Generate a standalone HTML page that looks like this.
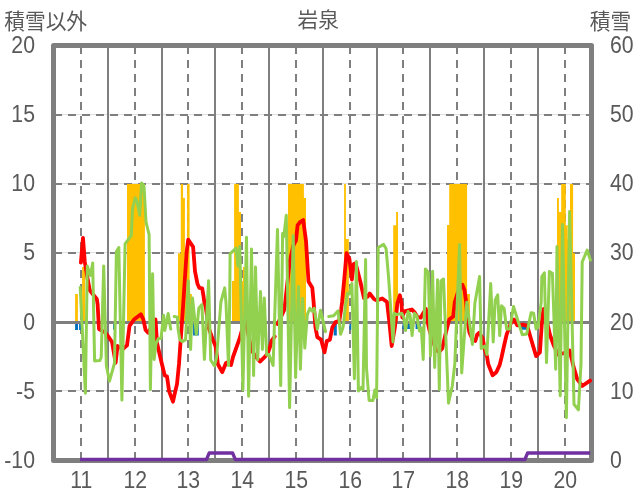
<!DOCTYPE html>
<html><head><meta charset="utf-8"><title>chart</title><style>html,body{margin:0;padding:0;background:#fff}body{width:636px;height:501px;overflow:hidden}</style></head><body>
<svg width="636" height="501" viewBox="0 0 636 501" style="display:block">
<rect width="636" height="501" fill="#fff"/>
<line x1="54" x2="591" y1="114.6" y2="114.6" stroke="#d4d4d4" stroke-width="0.8"/>
<line x1="54" x2="591" y1="183.6" y2="183.6" stroke="#d4d4d4" stroke-width="0.8"/>
<line x1="54" x2="591" y1="252.6" y2="252.6" stroke="#d4d4d4" stroke-width="0.8"/>
<line x1="54" x2="591" y1="390.6" y2="390.6" stroke="#d4d4d4" stroke-width="0.8"/>
<line x1="54" x2="591" y1="115" y2="115" stroke="#7f7f7f" stroke-width="2" stroke-dasharray="8 6"/>
<line x1="54" x2="591" y1="184" y2="184" stroke="#7f7f7f" stroke-width="2" stroke-dasharray="8 6"/>
<line x1="54" x2="591" y1="253" y2="253" stroke="#7f7f7f" stroke-width="2" stroke-dasharray="8 6"/>
<line x1="54" x2="591" y1="391" y2="391" stroke="#7f7f7f" stroke-width="2" stroke-dasharray="8 6"/>
<line x1="81" x2="81" y1="46" y2="460" stroke="#7f7f7f" stroke-width="2" stroke-dasharray="8 6"/>
<line x1="108" x2="108" y1="46" y2="460" stroke="#7f7f7f" stroke-width="2"/>
<line x1="135" x2="135" y1="46" y2="460" stroke="#7f7f7f" stroke-width="2" stroke-dasharray="8 6"/>
<line x1="162" x2="162" y1="46" y2="460" stroke="#7f7f7f" stroke-width="2"/>
<line x1="188" x2="188" y1="46" y2="460" stroke="#7f7f7f" stroke-width="2" stroke-dasharray="8 6"/>
<line x1="215" x2="215" y1="46" y2="460" stroke="#7f7f7f" stroke-width="2"/>
<line x1="242" x2="242" y1="46" y2="460" stroke="#7f7f7f" stroke-width="2" stroke-dasharray="8 6"/>
<line x1="269" x2="269" y1="46" y2="460" stroke="#7f7f7f" stroke-width="2"/>
<line x1="296" x2="296" y1="46" y2="460" stroke="#7f7f7f" stroke-width="2" stroke-dasharray="8 6"/>
<line x1="323" x2="323" y1="46" y2="460" stroke="#7f7f7f" stroke-width="2"/>
<line x1="350" x2="350" y1="46" y2="460" stroke="#7f7f7f" stroke-width="2" stroke-dasharray="8 6"/>
<line x1="377" x2="377" y1="46" y2="460" stroke="#7f7f7f" stroke-width="2"/>
<line x1="403" x2="403" y1="46" y2="460" stroke="#7f7f7f" stroke-width="2" stroke-dasharray="8 6"/>
<line x1="430" x2="430" y1="46" y2="460" stroke="#7f7f7f" stroke-width="2"/>
<line x1="457" x2="457" y1="46" y2="460" stroke="#7f7f7f" stroke-width="2" stroke-dasharray="8 6"/>
<line x1="484" x2="484" y1="46" y2="460" stroke="#7f7f7f" stroke-width="2"/>
<line x1="511" x2="511" y1="46" y2="460" stroke="#7f7f7f" stroke-width="2" stroke-dasharray="8 6"/>
<line x1="538" x2="538" y1="46" y2="460" stroke="#7f7f7f" stroke-width="2"/>
<line x1="565" x2="565" y1="46" y2="460" stroke="#7f7f7f" stroke-width="2" stroke-dasharray="8 6"/>
<path d="M75.10,322.00L75.10,294.00L77.90,294.00L77.90,322.00ZM82.10,322.00L82.10,267.00L85.10,267.00L85.10,322.00ZM127.00,322.00L127.00,184.00L144.90,184.00L144.90,322.00ZM178.00,322.00L178.00,253.20L180.80,253.20L180.80,184.00L183.05,184.00L183.05,198.10L184.90,198.10L184.90,262.00L187.10,262.00L187.10,184.00L189.60,184.00L189.60,294.10L191.90,294.10L191.90,322.00ZM232.00,322.00L232.00,280.90L234.10,280.90L234.10,184.00L238.90,184.00L238.90,212.00L241.00,212.00L241.00,281.00L242.90,281.00L242.90,267.00L244.80,267.00L244.80,322.00ZM288.00,322.00L288.00,184.00L303.90,184.00L303.90,198.10L306.00,198.10L306.00,322.00ZM344.10,322.00L344.10,184.00L345.90,184.00L345.90,239.00L348.80,239.00L348.80,322.00ZM393.20,322.00L393.20,225.20L396.10,225.20L396.10,212.00L398.00,212.00L398.00,322.00ZM447.00,322.00L447.00,224.90L449.20,224.90L449.20,184.00L467.10,184.00L467.10,294.10L469.90,294.10L469.90,322.00ZM557.00,322.00L557.00,198.10L558.90,198.10L558.90,212.00L561.20,212.00L561.20,184.00L565.80,184.00L565.80,225.20L567.70,225.20L567.70,239.00L570.00,239.00L570.00,184.00L573.10,184.00L573.10,253.20L575.00,253.20L575.00,322.00Z" fill="#ffc000"/>
<path d="M75.10,322.00L75.10,329.90L78.00,329.90L78.00,322.00ZM79.10,322.00L79.10,329.90L81.10,329.90L81.10,322.00ZM113.10,322.00L113.10,329.70L114.10,329.70L114.10,322.00ZM193.10,322.00L193.10,335.50L198.80,335.50L198.80,322.00ZM333.70,322.00L333.70,335.50L336.80,335.50L336.80,322.00ZM349.40,322.00L349.40,329.70L351.30,329.70L351.30,322.00ZM402.40,322.00L402.40,329.00L404.30,329.00L404.30,322.00ZM406.80,322.00L406.80,329.00L413.10,329.00L413.10,322.00ZM415.60,322.00L415.60,329.00L420.70,329.00L420.70,322.00ZM521.00,322.00L521.00,329.70L527.00,329.70L527.00,322.00Z" fill="#0070c0"/>
<line x1="54" x2="591" y1="322.5" y2="322.5" stroke="#7f7f7f" stroke-width="3"/>
<rect x="53.5" y="45.5" width="538.00" height="415.00" fill="none" stroke="#7f7f7f" stroke-width="5" stroke-linejoin="round"/>
<polyline points="80.0,459.5 206.5,459.5 209.2,453.0 232.6,453.0 235.3,459.5 524.9,459.5 527.6,453.0 590.2,453.0" fill="none" stroke="#7030a0" stroke-width="3.3" stroke-linejoin="round" stroke-linecap="butt"/>
<polyline points="80.9,262.6 83.0,237.8 84.8,262.0 87.3,277.0 89.8,290.3 93.5,295.0 96.8,299.0 97.6,304.0 99.0,329.0 105.0,332.4 108.0,336.0 112.0,342.0 115.6,362.8 117.5,346.0 122.6,349.2 127.0,345.4 129.5,325.9 134.0,319.6 140.9,314.3 143.4,319.6 145.6,330.0 148.1,332.8 155.5,319.5 157.0,343.0 161.9,364.0 164.8,375.6 167.0,376.6 169.2,391.7 173.0,401.7 174.9,392.9 177.0,384.1 179.0,364.0 183.3,302.9 186.6,252.6 188.2,239.6 190.5,243.0 193.1,246.9 195.0,271.4 197.5,284.0 199.4,287.8 202.2,288.4 203.4,295.3 204.4,302.9 205.8,307.5 208.7,327.9 212.9,339.8 215.5,346.0 217.1,357.3 217.8,364.0 222.2,372.2 226.0,363.0 228.5,362.0 231.0,365.0 233.0,357.0 239.2,339.7 243.6,324.6 245.5,321.0 248.0,333.0 251.5,350.0 256.0,357.0 260.0,361.6 264.8,356.9 267.6,353.6 270.0,347.0 271.8,340.4 274.7,336.6" fill="none" stroke="#ff0000" stroke-width="3.8" stroke-linejoin="round" stroke-linecap="round"/>
<polyline points="277.5,324.0 281.0,317.0 284.2,310.0 285.5,300.0 289.7,261.4 293.5,245.0 296.0,240.5 297.6,225.2 300.4,221.8 303.2,220.1 304.8,232.0 306.0,241.0 308.5,281.5 312.3,287.8 313.6,302.0 315.4,327.2 317.3,337.2 321.1,339.7 324.5,352.3 326.8,341.0 329.9,339.7 332.4,327.2 335.6,322.1 339.3,320.9 341.2,309.5 342.1,302.0 344.4,277.7 346.5,253.2 349.4,258.9 351.9,279.6 353.8,264.0 355.6,263.2 360.3,281.5 364.0,298.0 367.8,296.6 369.7,293.5 374.1,299.1 376.6,300.4 382.3,298.5 387.0,302.0 389.2,320.9 391.7,346.0 394.9,327.2 397.4,303.0 399.9,295.3 401.5,303.0 402.3,317.5 404.3,311.4 409.3,310.2 411.9,309.5 414.4,312.1 417.5,317.1 420.7,317.7 423.2,313.3 425.9,308.9 428.2,324.6 429.5,330.3 432.0,338.0 436.0,350.0 439.0,352.0 442.2,348.5 446.0,332.2 449.2,319.6 453.2,316.5 454.8,302.0 458.0,292.0 462.4,284.7 464.5,290.0 466.1,302.0 467.4,320.9 469.5,332.8 472.4,339.1 475.3,341.0 477.1,334.7 479.1,332.8 482.5,337.8 485.0,350.4 486.9,356.1 488.2,364.0 492.6,375.3 496.3,372.2 499.7,364.9 501.4,358.0 504.0,346.0 506.6,334.7 511.0,322.8 514.1,319.6 517.3,325.3 522.9,324.6 527.3,325.9 530.5,337.2 536.1,356.1 539.9,352.3 542.4,314.6 543.7,308.9 547.0,322.0 550.0,335.0 554.0,346.0 558.2,354.8 564.0,353.0 569.5,350.4 572.0,359.9 572.8,364.0 577.2,379.1 582.2,386.0 590.1,380.6" fill="none" stroke="#ff0000" stroke-width="3.8" stroke-linejoin="round" stroke-linecap="round"/>
<polyline points="80.2,287.2 85.4,393.2 87.3,265.9 90.5,275.4 92.7,263.1 94.6,361.0 99.9,360.5 101.2,357.3 103.7,265.9 106.4,366.0 109.5,381.2 114.5,363.0 116.4,251.5 118.8,247.6 121.9,400.1 125.1,243.8 131.3,235.3 132.5,209.0 135.2,197.9 137.2,202.2 139.7,215.3 141.6,182.9 144.0,186.2 146.0,222.0 149.1,234.6 150.4,389.4 152.6,273.7 154.1,359.5 156.0,343.5 158.5,338.5 161.0,338.5 163.6,315.3 164.8,330.5 168.2,313.4 170.7,329.0" fill="none" stroke="#92d050" stroke-width="3.0" stroke-linejoin="round" stroke-linecap="round"/>
<polyline points="174.2,316.5 177.4,317.1 178.0,328.4 179.9,339.7 182.4,341.6 185.6,339.7 188.3,280.7 190.6,349.4 192.5,297.9 196.3,334.3 198.8,308.3 201.9,304.5 204.4,359.5 208.6,280.7 210.7,360.0 214.5,366.0 216.5,358.0 220.9,302.0 224.7,287.9 226.0,303.0 228.5,365.6 229.7,302.0 230.1,253.8 236.0,248.2 237.9,266.0 239.8,246.4 242.9,390.0 246.5,237.2 248.6,396.3 251.5,248.9 253.6,375.6 255.5,267.1 257.7,359.8 260.5,291.6 262.4,349.4 264.3,297.9 266.7,355.0 269.0,354.5 273.1,365.5 277.5,229.6 280.7,385.6 282.6,233.4 283.8,236.6 286.3,215.2 289.6,407.6 293.2,235.5 295.6,377.4 298.5,286.6 300.4,369.3 302.6,298.6 304.8,348.1 307.3,314.6 309.8,308.3 312.3,311.4 314.2,308.3 317.3,329.3 320.5,310.2 325.5,331.6" fill="none" stroke="#92d050" stroke-width="3.0" stroke-linejoin="round" stroke-linecap="round"/>
<polyline points="328.7,316.5 333.7,315.8 338.1,310.8 340.6,334.3 343.1,327.2 345.6,304.5 347.5,293.5 349.4,294.0 351.9,283.5 354.4,378.7 356.4,261.5 358.4,391.0 361.5,387.3 363.0,389.6 365.6,259.6 366.5,368.0 369.1,400.5 372.9,400.5 374.8,389.9 376.6,397.6 378.2,247.5 383.6,244.4 386.1,248.8 388.6,277.7 393.0,341.9 394.3,313.3 396.8,314.6 401.8,313.3 403.7,317.1 405.6,330.5 408.1,311.5 410.0,314.6 412.1,335.6 414.4,313.3 416.9,315.8 419.4,330.9 421.3,327.9 423.2,359.5 425.4,268.9 428.3,272.5 430.5,355.9 432.6,271.2 434.7,367.4 437.6,279.7 439.3,389.4 441.0,281.0 443.5,279.0 448.5,403.2 452.3,386.0 454.8,364.0 459.6,244.5 461.7,373.0 466.8,302.3 472.4,344.4 474.9,303.0 479.6,276.5 481.2,348.5 485.0,346.0 486.9,354.4 490.7,283.5 493.2,341.9 495.2,300.0 497.7,294.8 499.7,335.6 501.5,305.8 504.1,308.3 506.6,329.0 509.7,329.0 513.5,306.5 522.3,334.7 526.7,334.1 531.1,312.7 533.6,313.3 536.1,329.0 538.0,327.2 541.2,302.0 541.8,276.5 544.4,272.8 546.5,362.6 549.4,271.4 552.4,273.3 555.7,369.3 557.0,246.4 560.2,395.7 562.5,224.6 566.4,417.7 569.6,211.4 574.0,404.3 578.4,409.9 581.0,364.0 582.2,262.0 587.2,250.1 590.4,260.1" fill="none" stroke="#92d050" stroke-width="3.0" stroke-linejoin="round" stroke-linecap="round"/>
<defs><filter id="nf" x="0" y="0" width="636" height="501" filterUnits="userSpaceOnUse" color-interpolation-filters="sRGB"><feOffset dx="0" dy="0"/></filter></defs><g filter="url(#nf)">
<text transform="translate(35,53.2) scale(0.985,1.065)" text-anchor="end" style="font-family:'Liberation Sans',sans-serif;font-size:21.6px;fill:#595959">20</text>
<text transform="translate(35,122.3) scale(0.985,1.065)" text-anchor="end" style="font-family:'Liberation Sans',sans-serif;font-size:21.6px;fill:#595959">15</text>
<text transform="translate(35,191.3) scale(0.985,1.065)" text-anchor="end" style="font-family:'Liberation Sans',sans-serif;font-size:21.6px;fill:#595959">10</text>
<text transform="translate(35,260.4) scale(0.985,1.065)" text-anchor="end" style="font-family:'Liberation Sans',sans-serif;font-size:21.6px;fill:#595959">5</text>
<text transform="translate(35,329.5) scale(0.985,1.065)" text-anchor="end" style="font-family:'Liberation Sans',sans-serif;font-size:21.6px;fill:#595959">0</text>
<text transform="translate(35,398.5) scale(0.985,1.065)" text-anchor="end" style="font-family:'Liberation Sans',sans-serif;font-size:21.6px;fill:#595959">-5</text>
<text transform="translate(35,467.6) scale(0.985,1.065)" text-anchor="end" style="font-family:'Liberation Sans',sans-serif;font-size:21.6px;fill:#595959">-10</text>
<text transform="translate(609.9,53.2) scale(0.985,1.065)" style="font-family:'Liberation Sans',sans-serif;font-size:21.6px;fill:#595959">60</text>
<text transform="translate(609.9,122.3) scale(0.985,1.065)" style="font-family:'Liberation Sans',sans-serif;font-size:21.6px;fill:#595959">50</text>
<text transform="translate(609.9,191.3) scale(0.985,1.065)" style="font-family:'Liberation Sans',sans-serif;font-size:21.6px;fill:#595959">40</text>
<text transform="translate(609.9,260.4) scale(0.985,1.065)" style="font-family:'Liberation Sans',sans-serif;font-size:21.6px;fill:#595959">30</text>
<text transform="translate(609.9,329.5) scale(0.985,1.065)" style="font-family:'Liberation Sans',sans-serif;font-size:21.6px;fill:#595959">20</text>
<text transform="translate(609.9,398.5) scale(0.985,1.065)" style="font-family:'Liberation Sans',sans-serif;font-size:21.6px;fill:#595959">10</text>
<text transform="translate(609.9,467.6) scale(0.985,1.065)" style="font-family:'Liberation Sans',sans-serif;font-size:21.6px;fill:#595959">0</text>
<text transform="translate(81.2,488.3) scale(0.985,1.065)" text-anchor="middle" style="font-family:'Liberation Sans',sans-serif;font-size:21.6px;fill:#595959">11</text>
<text transform="translate(135.2,488.3) scale(0.985,1.065)" text-anchor="middle" style="font-family:'Liberation Sans',sans-serif;font-size:21.6px;fill:#595959">12</text>
<text transform="translate(188.2,488.3) scale(0.985,1.065)" text-anchor="middle" style="font-family:'Liberation Sans',sans-serif;font-size:21.6px;fill:#595959">13</text>
<text transform="translate(242.2,488.3) scale(0.985,1.065)" text-anchor="middle" style="font-family:'Liberation Sans',sans-serif;font-size:21.6px;fill:#595959">14</text>
<text transform="translate(296.2,488.3) scale(0.985,1.065)" text-anchor="middle" style="font-family:'Liberation Sans',sans-serif;font-size:21.6px;fill:#595959">15</text>
<text transform="translate(350.2,488.3) scale(0.985,1.065)" text-anchor="middle" style="font-family:'Liberation Sans',sans-serif;font-size:21.6px;fill:#595959">16</text>
<text transform="translate(403.2,488.3) scale(0.985,1.065)" text-anchor="middle" style="font-family:'Liberation Sans',sans-serif;font-size:21.6px;fill:#595959">17</text>
<text transform="translate(457.2,488.3) scale(0.985,1.065)" text-anchor="middle" style="font-family:'Liberation Sans',sans-serif;font-size:21.6px;fill:#595959">18</text>
<text transform="translate(511.2,488.3) scale(0.985,1.065)" text-anchor="middle" style="font-family:'Liberation Sans',sans-serif;font-size:21.6px;fill:#595959">19</text>
<text transform="translate(565.2,488.3) scale(0.985,1.065)" text-anchor="middle" style="font-family:'Liberation Sans',sans-serif;font-size:21.6px;fill:#595959">20</text>
</g>
<text transform="translate(4.2,28.6) scale(1,1.032)" style="font-family:'Liberation Sans','Noto Sans CJK JP',sans-serif;font-size:20.73px;fill:#595959">積雪以外</text>
<text transform="translate(297.5,27.2) scale(1,1.008)" style="font-family:'Liberation Sans','Noto Sans CJK JP',sans-serif;font-size:20.73px;fill:#595959">岩泉</text>
<text transform="translate(589.8,28.6) scale(1,1.032)" style="font-family:'Liberation Sans','Noto Sans CJK JP',sans-serif;font-size:20.73px;fill:#595959">積雪</text>
</svg>
</body></html>
